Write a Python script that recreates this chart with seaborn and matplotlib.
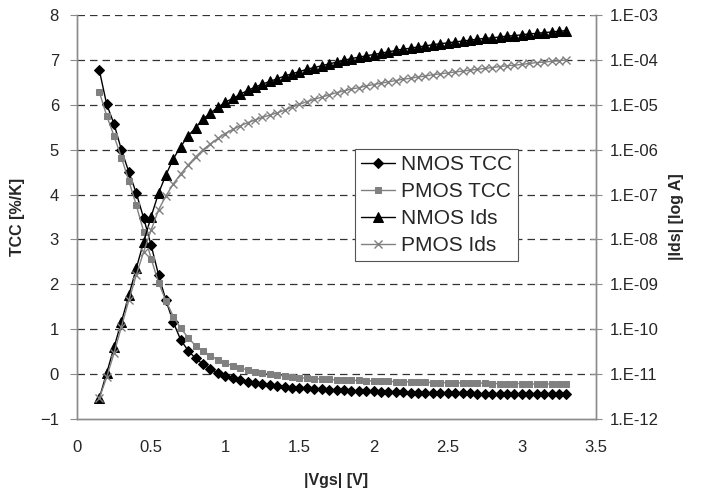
import numpy as np
import seaborn as sns
import matplotlib.pyplot as plt
from matplotlib.ticker import FixedLocator, FuncFormatter, NullLocator

# |Vgs| sweep [V]
vgs = [0.15, 0.20, 0.25, 0.30, 0.35, 0.40, 0.45, 0.50, 0.55, 0.60,
       0.65, 0.70, 0.75, 0.80, 0.85, 0.90, 0.95, 1.00, 1.05, 1.10,
       1.15, 1.20, 1.25, 1.30, 1.35, 1.40, 1.45, 1.50, 1.55, 1.60,
       1.65, 1.70, 1.75, 1.80, 1.85, 1.90, 1.95, 2.00, 2.05, 2.10,
       2.15, 2.20, 2.25, 2.30, 2.35, 2.40, 2.45, 2.50, 2.55, 2.60,
       2.65, 2.70, 2.75, 2.80, 2.85, 2.90, 2.95, 3.00, 3.05, 3.10,
       3.15, 3.20, 3.25, 3.30]

# TCC [%/K]
nmos_tcc = [6.78, 6.01, 5.57, 4.99, 4.50, 4.03, 3.47, 2.87, 2.21, 1.64,
            1.15, 0.76, 0.52, 0.35, 0.22, 0.11, 0.03, -0.04, -0.09, -0.14,
            -0.18, -0.20, -0.23, -0.25, -0.27, -0.28, -0.30, -0.31, -0.32, -0.33,
            -0.34, -0.35, -0.35, -0.36, -0.37, -0.37, -0.38, -0.38, -0.39, -0.39,
            -0.40, -0.40, -0.41, -0.41, -0.42, -0.42, -0.42, -0.43, -0.43, -0.43,
            -0.43, -0.44, -0.44, -0.44, -0.44, -0.44, -0.44, -0.44, -0.45, -0.45,
            -0.45, -0.45, -0.45, -0.45]
pmos_tcc = [6.29, 5.76, 5.30, 4.82, 4.30, 3.76, 3.17, 2.57, 2.04, 1.63,
            1.28, 1.02, 0.81, 0.63, 0.51, 0.41, 0.32, 0.24, 0.19, 0.14,
            0.09, 0.05, 0.03, 0.00, -0.02, -0.04, -0.06, -0.08, -0.09, -0.10,
            -0.11, -0.12, -0.13, -0.13, -0.14, -0.14, -0.15, -0.15, -0.16, -0.16,
            -0.17, -0.17, -0.17, -0.18, -0.18, -0.19, -0.19, -0.19, -0.19, -0.20,
            -0.20, -0.20, -0.20, -0.21, -0.21, -0.21, -0.21, -0.21, -0.22, -0.22,
            -0.22, -0.22, -0.22, -0.22]

# log10(|Ids| / A)
nmos_log_ids = [-11.54, -10.98, -10.40, -9.83, -9.24, -8.64, -8.05, -7.49, -6.97, -6.56,
                -6.20, -5.93, -5.69, -5.51, -5.32, -5.18, -5.06, -4.94, -4.86, -4.77,
                -4.68, -4.61, -4.54, -4.48, -4.42, -4.36, -4.31, -4.26, -4.21, -4.17,
                -4.13, -4.09, -4.05, -4.01, -3.97, -3.94, -3.91, -3.88, -3.85, -3.82,
                -3.79, -3.76, -3.74, -3.71, -3.69, -3.66, -3.64, -3.62, -3.60, -3.58,
                -3.56, -3.54, -3.52, -3.51, -3.49, -3.47, -3.46, -3.44, -3.42, -3.41,
                -3.39, -3.38, -3.36, -3.35]
pmos_log_ids = [-11.54, -11.07, -10.53, -9.94, -9.35, -8.79, -8.27, -7.79, -7.34, -7.03,
                -6.76, -6.54, -6.34, -6.16, -6.00, -5.87, -5.75, -5.64, -5.55, -5.47,
                -5.40, -5.34, -5.28, -5.23, -5.18, -5.12, -5.05, -4.99, -4.93, -4.88,
                -4.83, -4.78, -4.73, -4.69, -4.65, -4.62, -4.58, -4.55, -4.52, -4.49,
                -4.46, -4.43, -4.41, -4.38, -4.36, -4.33, -4.31, -4.29, -4.27, -4.25,
                -4.23, -4.21, -4.19, -4.17, -4.15, -4.13, -4.12, -4.10, -4.08, -4.06,
                -4.05, -4.03, -4.02, -4.00]

sns.set_style('white')
plt.rcParams['font.family'] = ['Liberation Sans', 'DejaVu Sans']

BLACK = '#000000'
GRAY = '#808080'
SPINE = '#8c8c8c'

fig = plt.figure(figsize=(7.11, 4.95), dpi=100)
ax = fig.add_axes([77 / 711, 1 - 419 / 495, 519 / 711, 404 / 495])
ax2 = ax.twinx()

ids_n = 10.0 ** np.array(nmos_log_ids)
ids_p = 10.0 ** np.array(pmos_log_ids)

sns.lineplot(x=vgs, y=nmos_tcc, ax=ax, color=BLACK, marker='D', markersize=5.5,
             markeredgecolor=BLACK, linewidth=1.0, label='NMOS TCC', legend=False)
sns.lineplot(x=vgs, y=pmos_tcc, ax=ax, color=GRAY, marker='s', markersize=5,
             markeredgecolor=GRAY, linewidth=1.0, label='PMOS TCC', legend=False)
sns.lineplot(x=vgs, y=ids_n, ax=ax2, color=BLACK, marker='^', markersize=7,
             markeredgecolor=BLACK, linewidth=1.0, label='NMOS Ids', legend=False)
sns.lineplot(x=vgs, y=ids_p, ax=ax2, color=GRAY, marker='x', markersize=6,
             markeredgecolor=GRAY, markeredgewidth=1.0, linewidth=1.0,
             label='PMOS Ids', legend=False)

# left axis
ax.set_xlim(0, 3.5)
ax.set_ylim(-1, 8)
ax.set_xticks(np.arange(0, 3.51, 0.5))
ax.set_yticks(range(-1, 9))
ax.xaxis.set_major_formatter(FuncFormatter(lambda v, p: f'{v:g}'))
for y in range(0, 9):
    ax.axhline(y, color='#333333', linestyle=(0, (6, 4)), linewidth=0.9, zorder=0)
ax.set_xlabel('|Vgs| [V]', fontsize=11.5, fontweight='bold', labelpad=13)
ax.set_ylabel('TCC [%/K]', fontsize=11.5, fontweight='bold', labelpad=11)

# right axis, log current
ax2.set_yscale('log')
ax2.set_ylim(1e-12, 1e-3)
ax2.yaxis.set_major_locator(FixedLocator([10.0 ** e for e in range(-12, -2)]))
ax2.yaxis.set_minor_locator(NullLocator())
ax2.yaxis.set_major_formatter(
    FuncFormatter(lambda v, p: f'1.E{int(round(np.log10(v))):03d}'))
ax2.set_ylabel('|Ids| [log A]', fontsize=11.5, fontweight='bold', labelpad=7)

for a in (ax, ax2):
    a.spines['top'].set_visible(False)
    for s in ('left', 'right', 'bottom'):
        a.spines[s].set_color(SPINE)
        a.spines[s].set_linewidth(1.0)
ax.tick_params(axis='y', which='major', direction='out', length=5,
               width=0.8, color=SPINE, labelsize=12, pad=8)
ax.tick_params(axis='x', which='major', direction='in', length=5,
               width=0.8, color=SPINE, labelsize=12, pad=15)
ax2.tick_params(axis='y', which='major', direction='inout', length=8,
                width=0.8, color=SPINE, labelsize=12, pad=6)

h1, l1 = ax.get_legend_handles_labels()
h2, l2 = ax2.get_legend_handles_labels()
leg = ax2.legend(h1 + h2, l1 + l2, loc='upper left', bbox_to_anchor=(0.536, 0.668),
                 fontsize=15, frameon=True, fancybox=False, edgecolor='#555555',
                 framealpha=1.0, handlelength=1.6, handletextpad=0.3,
                 labelspacing=0.38, borderpad=0.3, borderaxespad=0.0)
leg.get_frame().set_linewidth(0.8)

fig.savefig('out.png', dpi=100)
